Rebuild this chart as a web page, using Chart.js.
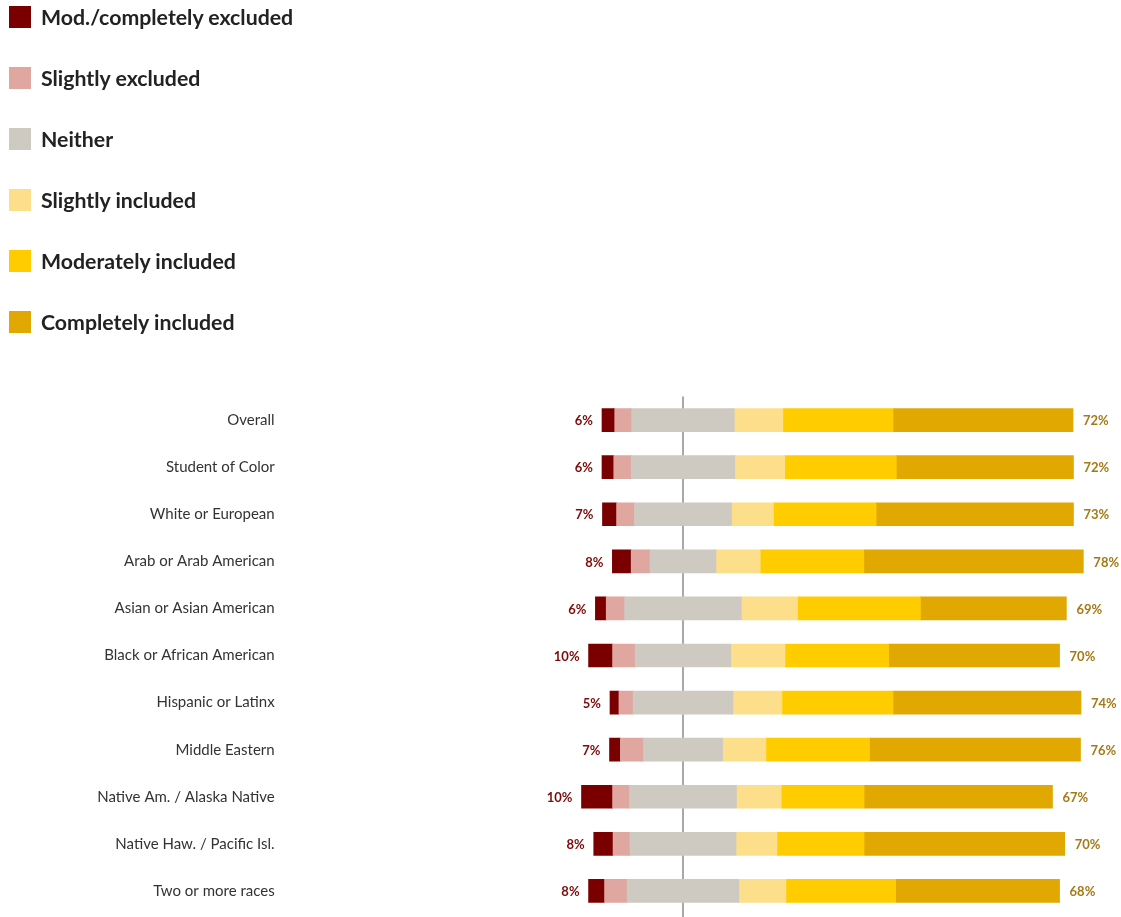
<!DOCTYPE html>
<html>
<head>
<meta charset="utf-8">
<script src="https://cdn.jsdelivr.net/npm/chart.js@4.4.1/dist/chart.umd.min.js"></script>
<style>
  html, body { margin: 0; padding: 0; background: #ffffff; }
  #wrap { position: relative; width: 1121px; height: 917px; }
  #chartBox { position: absolute; left: 0; top: 0; width: 1121px; height: 917px; }
  #legend { position: absolute; left: 9px; top: 0; font-family: Lato, "Noto Sans", sans-serif; font-weight: 700; font-size: 21.3px; color: #222222; }
  .li { position: absolute; left: 0; width: 400px; height: 22px; display: flex; align-items: center; white-space: nowrap; }
  .sw { width: 22px; height: 22px; margin-right: 10px; flex: none; }
</style>
</head>
<body>
<div id="wrap">
  <div id="chartBox"><canvas id="c"></canvas></div>
  <div id="legend"></div>
</div>
<script>
const categories = ["Overall", "Student of Color", "White or European", "Arab or Arab American", "Asian or Asian American", "Black or African American", "Hispanic or Latinx", "Middle Eastern", "Native Am. / Alaska Native", "Native Haw. / Pacific Isl.", "Two or more races"];
const seriesNames = ["Mod./completely excluded", "Slightly excluded", "Neither", "Slightly included", "Moderately included", "Completely included"];
const seriesColors = ["#7a0000", "#e0a6a0", "#cec9c1", "#fddf8b", "#ffcc00", "#e0a800"];

const modExcluded      = [2.7, 2.5, 3.0, 4.0, 2.3, 5.1, 1.9, 2.3, 6.6, 4.1, 3.4];
const slightExcluded   = [3.6, 3.7, 3.8, 4.0, 3.9, 4.8, 3.0, 4.9, 3.6, 3.6, 4.8];
const neither          = [21.8, 22.0, 20.6, 14.0, 24.8, 20.3, 21.2, 16.8, 22.7, 22.5, 23.7];
const slightIncluded   = [10.3, 10.6, 8.9, 9.4, 11.9, 11.5, 10.4, 9.2, 9.5, 8.7, 10.0];
const modIncluded      = [23.4, 23.7, 21.8, 22.0, 26.1, 22.0, 23.6, 22.0, 17.6, 18.5, 23.3];
const completeIncluded = [38.2, 37.6, 41.9, 46.6, 31.0, 36.3, 39.9, 44.8, 40.0, 42.6, 34.8];

// HTML legend
const legendEl = document.getElementById('legend');
seriesNames.forEach((name, i) => {
  const row = document.createElement('div');
  row.className = 'li';
  row.style.top = (6 + i * 61) + 'px';
  const sw = document.createElement('span');
  sw.className = 'sw';
  sw.style.background = seriesColors[i];
  const tx = document.createElement('span');
  tx.textContent = name;
  row.appendChild(sw); row.appendChild(tx);
  legendEl.appendChild(row);
});

const PX_MIN = -85, PX_MAX = 90;

const centerLine = {
  id: 'centerLine',
  beforeDatasetsDraw(chart) {
    const ctx = chart.ctx, xs = chart.scales.x;
    const x = Math.round(xs.getPixelForValue(0));
    ctx.save();
    ctx.strokeStyle = '#a8a8a8';
    ctx.lineWidth = 2;
    ctx.beginPath();
    ctx.moveTo(x, chart.chartArea.top);
    ctx.lineTo(x, chart.height);
    ctx.stroke();
    ctx.restore();
  }
};

const endLabels = {
  id: 'endLabels',
  afterDatasetsDraw(chart) {
    const ctx = chart.ctx, xs = chart.scales.x, ys = chart.scales.y;
    ctx.save();
    ctx.font = 'bold 13px Lato, "Noto Sans", sans-serif';
    ctx.textBaseline = 'middle';
    categories.forEach((c, i) => {
      const y = ys.getPixelForValue(i);
      const excl = modExcluded[i] + slightExcluded[i];
      const incl = slightIncluded[i] + modIncluded[i] + completeIncluded[i];
      const leftX = xs.getPixelForValue(-(excl + neither[i] / 2));
      const rightX = xs.getPixelForValue(incl + neither[i] / 2);
      ctx.fillStyle = '#7d0a0a';
      ctx.textAlign = 'right';
      ctx.fillText(Math.round(excl) + '%', leftX - 9, y + 1);
      ctx.fillStyle = '#a57916';
      ctx.textAlign = 'left';
      ctx.fillText(Math.round(incl) + '%', rightX + 10, y + 1);
    });
    ctx.restore();
  }
};

const neg = arr => arr.map(v => -v);
const half = arr => arr.map(v => v / 2);

const common = { borderWidth: 0, barThickness: 23, stack: 's' };
const datasets = [
  Object.assign({ label: 'Neither (left)', data: neg(half(neither)), backgroundColor: seriesColors[2] }, common),
  Object.assign({ label: seriesNames[1], data: neg(slightExcluded), backgroundColor: seriesColors[1] }, common),
  Object.assign({ label: seriesNames[0], data: neg(modExcluded), backgroundColor: seriesColors[0] }, common),
  Object.assign({ label: 'Neither (right)', data: half(neither), backgroundColor: seriesColors[2] }, common),
  Object.assign({ label: seriesNames[3], data: slightIncluded, backgroundColor: seriesColors[3] }, common),
  Object.assign({ label: seriesNames[4], data: modIncluded, backgroundColor: seriesColors[4] }, common),
  Object.assign({ label: seriesNames[5], data: completeIncluded, backgroundColor: seriesColors[5] }, common)
];

new Chart(document.getElementById('c'), {
  type: 'bar',
  data: { labels: categories, datasets },
  options: {
    indexAxis: 'y',
    responsive: true,
    maintainAspectRatio: false,
    animation: false,
    layout: { padding: { top: 396.5, bottom: 2.5, left: 0, right: 14.1 } },
    plugins: { legend: { display: false }, tooltip: { enabled: false } },
    scales: {
      x: {
        stacked: true, min: PX_MIN, max: PX_MAX, display: false
      },
      y: {
        stacked: true,
        grid: { display: false, drawTicks: false },
        border: { display: false },
        ticks: { color: '#333333', padding: 8, font: { family: 'Lato, "Noto Sans", sans-serif', size: 15 } },
        afterFit(scale) { scale.width = 282.65; scale.paddingTop = 0; scale.paddingBottom = 0; }
      }
    }
  },
  plugins: [centerLine, endLabels]
});
</script>
</body>
</html>
